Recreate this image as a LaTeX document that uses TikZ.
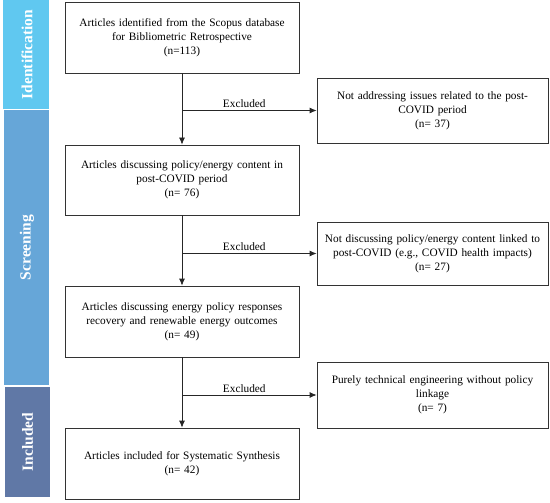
\documentclass[tikz,border=0pt]{standalone}
\usepackage{fontspec}
\setmainfont{Liberation Serif}
\usetikzlibrary{arrows.meta}
\definecolor{identc}{RGB}{96,200,240}
\definecolor{screenc}{RGB}{102,166,216}
\definecolor{inclc}{RGB}{96,120,166}
\tikzset{
  x=1pt,y=-1pt,
  mainbox/.style={draw=black!80,line width=0.8pt,minimum width=234pt,text width=232pt,align=center,font=\fontsize{11.3}{14}\selectfont,inner sep=0pt},
  sidebox/.style={draw=black!80,line width=0.8pt,minimum width=231pt,text width=229pt,align=center,font=\fontsize{11.3}{14}\selectfont,inner sep=0pt},
  phasetxt/.style={text=white,rotate=90,font=\fontsize{15.5}{17}\selectfont\bfseries},
  flow/.style={line width=0.8pt,draw=black!85,-{Latex[length=7pt,width=6pt]}},
  exlbl/.style={font=\fontsize{11.3}{12}\selectfont,above,inner sep=2pt}
}
\begin{document}
\begin{tikzpicture}
\useasboundingbox (0,0) rectangle (550,503);
% phase bars
\fill[identc] (3,0) rectangle (49,109);
\fill[screenc] (4,110) rectangle (49,385);
\fill[inclc] (5,387) rectangle (50,497);
\node[phasetxt] (tid) at (27,54.5) {Identification};
\node[phasetxt] (tsc) at (27,247.5) {Screening};
\node[phasetxt] (tin) at (27.5,442) {Included};
% main boxes
\node[mainbox,minimum height=71pt] (b1) at (182,37.5) {Articles identified from the Scopus database\\for Bibliometric Retrospective\\(n=113)};
\node[mainbox,minimum height=70pt] (b2) at (182,180) {Articles discussing policy/energy content in\\post-COVID period\\(n= 76)};
\node[mainbox,minimum height=71pt] (b3) at (182,321.5) {Articles discussing energy policy responses\\recovery and renewable energy outcomes\\(n= 49)};
\node[mainbox,minimum height=71pt] (b4) at (182,463.5) {Articles included for Systematic Synthesis\\(n= 42)};
% side boxes
\node[sidebox,minimum height=65pt] (r1) at (432.5,110.5) {Not addressing issues related to the post-\\COVID period\\(n= 37)};
\node[sidebox,minimum height=63pt] (r2) at (432.5,253.5) {Not discussing policy/energy content linked to\\post-COVID (e.g., COVID health impacts)\\(n= 27)};
\node[sidebox,minimum height=66pt] (r3) at (432.5,395) {Purely technical engineering without policy\\linkage\\(n= 7)};
% connectors
\draw[flow] (b1) -- (b2);
\draw[flow] (b2) -- (b3);
\draw[flow] (b3) -- (b4);
\coordinate (c1) at (b1.south |- r1.west);
\coordinate (c2) at (b2.south |- r2.west);
\coordinate (c3) at (b3.south |- r3.west);
\draw[flow] (c1) -- node[exlbl,xshift=-5pt] (e1) {Excluded} (r1.west);
\draw[flow] (c2) -- node[exlbl,xshift=-5pt] (e2) {Excluded} (r2.west);
\draw[flow] (c3) -- node[exlbl,xshift=-5pt] (e3) {Excluded} (r3.west);
\end{tikzpicture}
\end{document}
